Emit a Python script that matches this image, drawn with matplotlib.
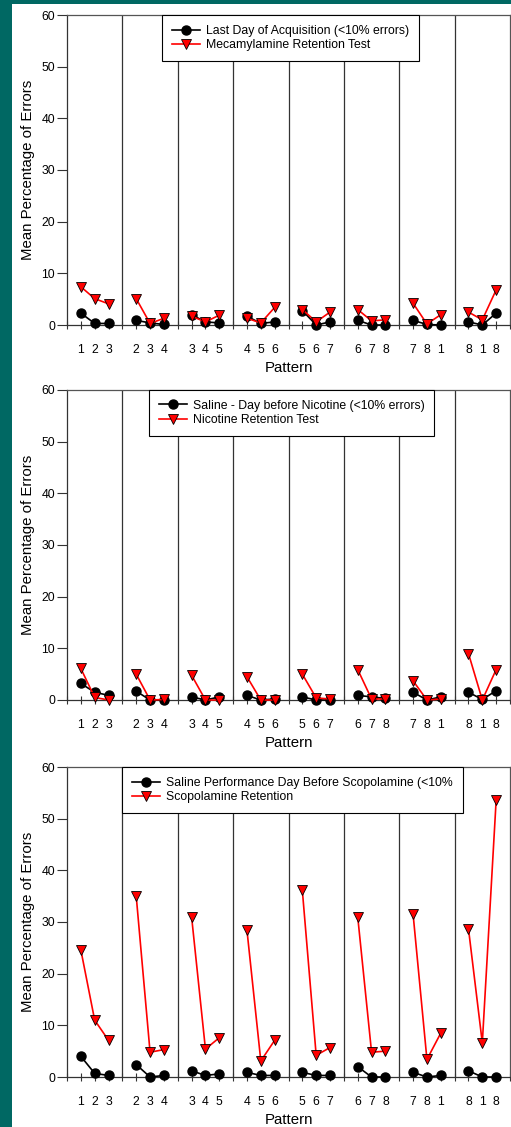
import matplotlib
matplotlib.use("Agg")
import matplotlib.pyplot as plt
from matplotlib.patches import Rectangle

plt.rcParams['font.family'] = ['Liberation Sans', 'DejaVu Sans']

# ---- data ----
pattern_labels = ["1", "2", "3", "2", "3", "4", "3", "4", "5", "4", "5", "6",
                  "5", "6", "7", "6", "7", "8", "7", "8", "1", "8", "1", "8"]

p1_black = [2.3, 0.3, 0.3, 0.9, 0.4, 0.1, 2.0, 0.6, 0.4, 1.7, 0.3, 0.6,
            2.8, 0.0, 0.6, 0.9, 0.0, 0.0, 0.9, 0.1, 0.0, 0.6, 0.0, 2.3]
p1_red = [7.4, 5.1, 4.1, 5.1, 0.3, 1.3, 1.7, 0.6, 1.9, 1.3, 0.4, 3.4,
          3.0, 0.6, 2.5, 3.0, 0.8, 1.0, 4.2, 0.2, 2.0, 2.5, 1.0, 6.8]
p1_labels = ["Last Day of Acquisition (<10% errors)", "Mecamylamine Retention Test"]

p2_black = [3.2, 1.5, 0.9, 1.7, 0.0, 0.0, 0.6, 0.0, 0.6, 0.9, 0.0, 0.2,
            0.6, 0.0, 0.0, 0.9, 0.6, 0.3, 1.5, 0.0, 0.6, 1.5, 0.1, 1.8]
p2_red = [6.1, 0.5, 0.0, 5.0, 0.0, 0.1, 4.8, 0.0, 0.0, 4.5, 0.0, 0.0,
          5.0, 0.4, 0.2, 5.9, 0.2, 0.2, 3.7, 0.0, 0.2, 9.0, 0.0, 5.9]
p2_labels = ["Saline - Day before Nicotine (<10% errors)", "Nicotine Retention Test"]

p3_black = [4.0, 0.7, 0.3, 2.4, 0.0, 0.3, 1.2, 0.3, 0.6, 0.9, 0.3, 0.3,
            0.9, 0.3, 0.3, 2.0, 0.0, 0.0, 0.9, 0.0, 0.3, 1.2, 0.0, 0.0]
p3_red = [24.6, 11.0, 7.1, 35.0, 4.8, 5.3, 31.0, 5.4, 7.6, 28.4, 3.1, 7.1,
          36.1, 4.2, 5.7, 31.0, 4.8, 5.0, 31.5, 3.4, 8.5, 28.7, 6.6, 53.6]
p3_labels = ["Saline Performance Day Before Scopolamine (<10%", "Scopolamine Retention"]

panels = [
    (p1_black, p1_red, p1_labels, 0.215),
    (p2_black, p2_red, p2_labels, 0.185),
    (p3_black, p3_red, p3_labels, 0.125),
]

n_groups = 8
W, H = 511, 1127
fig = plt.figure(figsize=(W / 100, H / 100), dpi=100, facecolor="#006863")
bg = Rectangle((12 / W, 0), 1 - 12 / W, 1 - 4 / H,
               transform=fig.transFigure, facecolor="white",
               edgecolor="none", zorder=-10)
fig.patches.append(bg)

ax_left, ax_right = 67, 510
tops = [15, 390, 767]
h_px = 310

xpos = [g * 4 + k for g in range(n_groups) for k in range(3)]

for (blk, red, labels, lx), top in zip(panels, tops):
    ax = fig.add_axes([ax_left / W, 1 - (top + h_px) / H,
                       (ax_right - ax_left) / W, h_px / H])
    ax.set_facecolor("white")
    for sep in range(3, 4 * n_groups - 1, 4):
        ax.axvline(sep, color="#333333", lw=0.9, zorder=1)
    for g in range(n_groups):
        sl = slice(3 * g, 3 * g + 3)
        lb, = ax.plot(xpos[sl], blk[sl], color="black", lw=1.2, marker="o",
                      markersize=6.5, markerfacecolor="black",
                      markeredgecolor="black", zorder=3, clip_on=False)
        lr, = ax.plot(xpos[sl], red[sl], color="red", lw=1.2, marker="v",
                      markersize=7, markerfacecolor="red",
                      markeredgecolor="black", markeredgewidth=0.6,
                      zorder=4, clip_on=False)
        if g == 0:
            hb, hr = lb, lr
    ax.set_xlim(-1, 4 * n_groups - 1)
    ax.set_ylim(0, 60)
    ax.set_yticks(range(0, 61, 10))
    ax.set_xticks(range(-1, 4 * n_groups), minor=False)
    ticklabels = []
    lab_iter = iter(pattern_labels)
    for t in range(-1, 4 * n_groups):
        if t >= 0 and t % 4 != 3:
            ticklabels.append(next(lab_iter))
        else:
            ticklabels.append("")
    ax.set_xticklabels(ticklabels)
    ax.tick_params(axis="x", direction="inout", length=6, width=0.8,
                   labelsize=8.8, pad=10.5, color="#333333")
    ax.tick_params(axis="y", direction="out", length=7, width=0.8,
                   labelsize=8.8, pad=1.5, color="#333333")
    for s in ["left", "bottom"]:
        ax.spines[s].set_color("#333333")
        ax.spines[s].set_linewidth(0.9)
    for s in ["top", "right"]:
        ax.spines[s].set_color("#555555")
        ax.spines[s].set_linewidth(0.9)
    ax.set_xlabel("Pattern", fontsize=10.8, labelpad=4)
    ax.set_ylabel("Mean Percentage of Errors", fontsize=10.8, labelpad=5)
    leg = ax.legend([hb, hr], labels, loc="upper left",
                    bbox_to_anchor=(lx, 1.0), borderaxespad=0,
                    fontsize=8.8, frameon=True, fancybox=False,
                    framealpha=1, edgecolor="black", handlelength=2.3,
                    handletextpad=0.5, borderpad=0.8, labelspacing=0.2)
    leg.get_frame().set_linewidth(0.8)
    leg.set_zorder(6)

fig.savefig("out.png", dpi=100, facecolor=fig.get_facecolor())
